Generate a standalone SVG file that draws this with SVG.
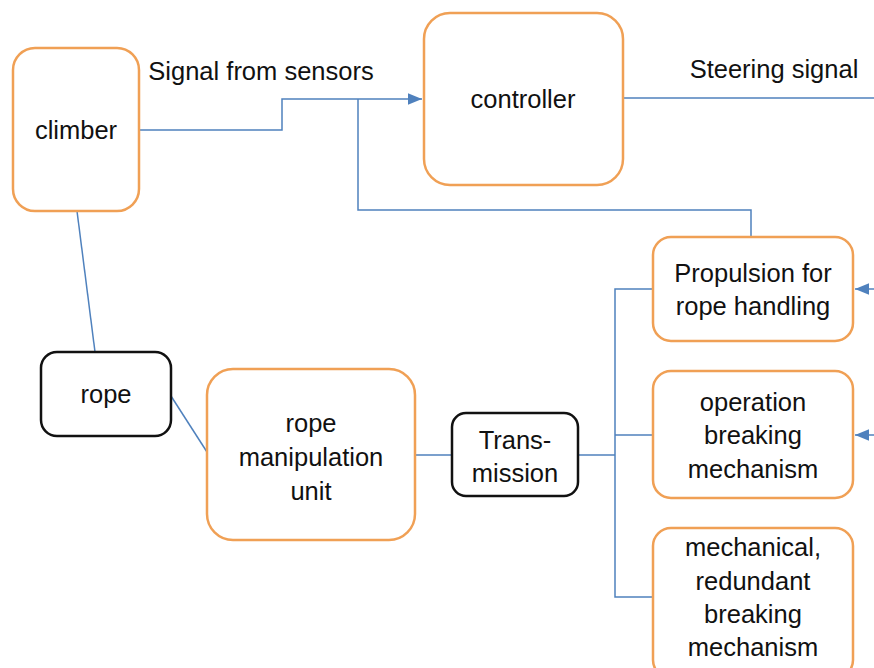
<svg xmlns="http://www.w3.org/2000/svg" width="874" height="668" viewBox="0 0 874 668">
<style>
.o{fill:#fff;stroke:#F0A055;stroke-width:2.5}
.k{fill:#fff;stroke:#111;stroke-width:2.5}
.t{font-family:"Liberation Sans",Arial,sans-serif;font-size:25.5px;fill:#111;text-anchor:middle}
.l{fill:none;stroke:#4F81BD;stroke-width:1.5}
</style>
<defs>
<marker id="b" viewBox="0 0 12 10" refX="12" refY="5" markerWidth="14" markerHeight="12" markerUnits="userSpaceOnUse" orient="auto">
<path d="M0,0 L12,5 L0,10 z" fill="#4F81BD"/>
</marker>
</defs>
<rect width="874" height="668" fill="#fff"/>
<g id="connectors">
<polyline class="l" points="139,130 282,130 282,99 422,99" marker-end="url(#b)"/>
<polyline class="l" points="358,99 358,210 751,210 751,237"/>
<line class="l" x1="623" y1="98" x2="874" y2="98"/>
<line class="l" x1="874" y1="289" x2="855" y2="289" marker-end="url(#b)"/>
<line class="l" x1="874" y1="435" x2="855" y2="435" marker-end="url(#b)"/>
<line class="l" x1="77" y1="211" x2="95" y2="352"/>
<line class="l" x1="171" y1="396" x2="207" y2="452"/>
<line class="l" x1="415" y1="455" x2="452" y2="455"/>
<line class="l" x1="578" y1="455" x2="615" y2="455"/>
<polyline class="l" points="653,289 615,289 615,597 653,597"/>
<line class="l" x1="615" y1="435" x2="653" y2="435"/>
<text class="t" x="261" y="80">Signal from sensors</text>
<text class="t" x="774" y="78">Steering signal</text>
</g>
<g id="climber">
<rect class="o" x="13" y="48" width="126" height="163" rx="22"/>
<text class="t" x="76" y="139">climber</text>
</g>
<g id="controller">
<rect class="o" x="424" y="13" width="199" height="172" rx="26"/>
<text class="t" x="523" y="108">controller</text>
</g>
<g id="propulsion">
<rect class="o" x="653" y="237" width="200" height="104" rx="18"/>
<text class="t" x="753" y="282">Propulsion for</text>
<text class="t" x="753" y="315">rope handling</text>
</g>
<g id="operation">
<rect class="o" x="653" y="371" width="200" height="127" rx="18"/>
<text class="t" x="753" y="411">operation</text>
<text class="t" x="753" y="444">breaking</text>
<text class="t" x="753" y="478">mechanism</text>
</g>
<g id="mechanical">
<rect class="o" x="653" y="528" width="200" height="150" rx="18"/>
<text class="t" x="753" y="556">mechanical,</text>
<text class="t" x="753" y="590">redundant</text>
<text class="t" x="753" y="623">breaking</text>
<text class="t" x="753" y="656">mechanism</text>
</g>
<g id="rope">
<rect class="k" x="41" y="352" width="130" height="84" rx="16"/>
<text class="t" x="106" y="403">rope</text>
</g>
<g id="rope-manipulation">
<rect class="o" x="207" y="369" width="208" height="171" rx="26"/>
<text class="t" x="311" y="432">rope</text>
<text class="t" x="311" y="466">manipulation</text>
<text class="t" x="311" y="500">unit</text>
</g>
<g id="transmission">
<rect class="k" x="452" y="413" width="126" height="83" rx="14"/>
<text class="t" x="515" y="449">Trans-</text>
<text class="t" x="515" y="482">mission</text>
</g>
</svg>
